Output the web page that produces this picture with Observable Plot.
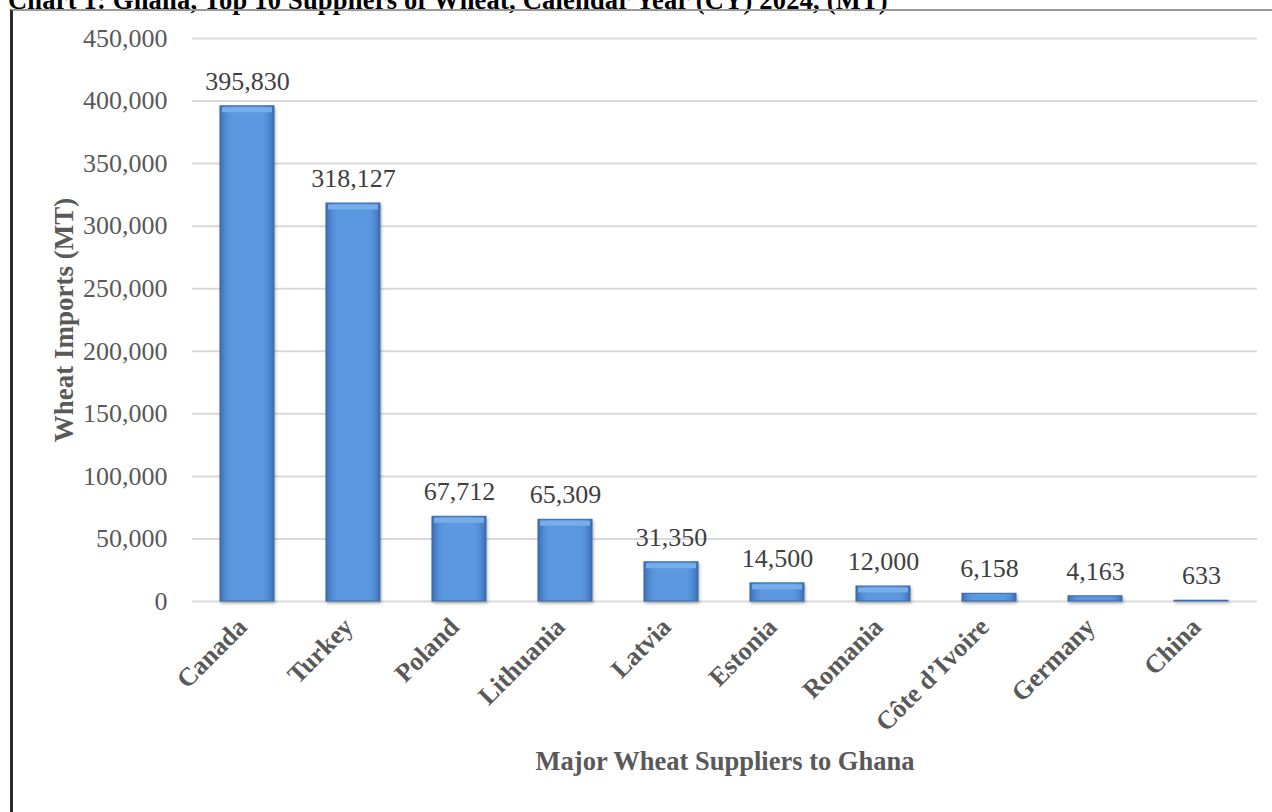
<!DOCTYPE html>
<html>
<head>
<meta charset="utf-8">
<script src="https://cdn.jsdelivr.net/npm/d3@7"></script>
<script src="https://cdn.jsdelivr.net/npm/@observablehq/plot@0.6"></script>
<style>
  html, body { margin: 0; padding: 0; background: #fff; }
  #page { position: relative; width: 1272px; height: 812px; overflow: hidden;
          font-family: "Liberation Serif", "Times New Roman", serif; }
  #title { position: absolute; left: 8px; top: -13px; font-size: 26.5px; line-height: 26.5px;
           letter-spacing: 0.2px; font-weight: bold; color: #000; white-space: nowrap; }
  #frame { position: absolute; left: 10px; top: 9px; width: 1400px; height: 1000px;
           border-top: 2px solid #9a9a9a; border-left: 3px solid #2b2b2b; }
  #chart { position: absolute; left: 0; top: 0; }
</style>
</head>
<body>
<div id="page">
  <div id="title">Chart 1: Ghana, Top 10 Suppliers of Wheat, Calendar Year (CY) 2024, (MT)</div>
  <div id="frame"></div>
  <div id="chart"></div>
</div>
<script>
// Top 10 wheat suppliers to Ghana, CY 2024 (metric tons)
const suppliers = ["Canada", "Turkey", "Poland", "Lithuania", "Latvia", "Estonia",
                   "Romania", "Côte d’Ivoire", "Germany", "China"];
const imports = [395830, 318127, 67712, 65309, 31350, 14500, 12000, 6158, 4163, 633];
const yTicks = [0, 50000, 100000, 150000, 200000, 250000, 300000, 350000, 400000, 450000];
const xTitle = "Major Wheat Suppliers to Ghana";
const yTitle = "Wheat Imports (MT)";

const rows = suppliers.map((s, i) => ({supplier: s, value: imports[i]}));
const fmt = d3.format(",");

const svg = Plot.plot({
  width: 1272,
  height: 812,
  marginTop: 38,
  marginBottom: 211,
  marginLeft: 192,
  marginRight: 15,
  style: {fontFamily: "'Liberation Serif', 'Times New Roman', serif", fontSize: "26px",
          color: "#595959", background: "transparent", overflow: "visible"},
  x: {domain: suppliers, paddingInner: 0.49, paddingOuter: 0.245, axis: null},
  y: {domain: [0, 450000], axis: null},
  marks: [
    Plot.gridY(yTicks, {stroke: "#d9d9d9", strokeOpacity: 1, strokeWidth: 2}),
    Plot.axisY(yTicks, {tickSize: 0, tickPadding: 25, tickFormat: fmt, label: null,
                        fontSize: 26, fill: "#595959"}),
    // bar body with darker bevelled sides
    Plot.barY(rows, {x: "supplier", y: "value", fill: "url(#barFill)",
                     stroke: "#3a6aa8", strokeWidth: 1}),
    // lighter top bevel on the taller bars
    Plot.tickY(rows.filter(d => d.value >= 10000),
               {x: "supplier", y: "value", stroke: "#78ade9", strokeWidth: 5, dy: 3.5,
                insetLeft: 2, insetRight: 2}),
    Plot.text(rows, {x: "supplier", y: "value", text: d => fmt(d.value), dy: -25,
                     fill: "#404040", fontSize: 26}),
    Plot.text(suppliers, {x: d => d, frameAnchor: "bottom", rotate: -45, textAnchor: "end",
                          dx: 1, dy: 27, fontWeight: "bold", fontSize: 26, fill: "#595959"}),
    Plot.text([xTitle], {frameAnchor: "bottom", dy: 168.5, fontWeight: "bold",
                         fontSize: 26.5, fill: "#595959"}),
    Plot.text([yTitle], {frameAnchor: "left", textAnchor: "middle", rotate: -90, dx: -128.5,
                         fontWeight: "bold", fontSize: 27, fill: "#595959"})
  ]
});

// Bevelled blue fill and soft shadow for the bars
const defs = d3.select(svg).insert("defs", ":first-child");
const grad = defs.append("linearGradient").attr("id", "barFill")
  .attr("x1", 0).attr("x2", 1).attr("y1", 0).attr("y2", 0);
[[0, "#3b6db0"], [0.1, "#4f8bd3"], [0.2, "#5b98e0"], [0.8, "#5b98e0"], [0.9, "#4f8bd3"], [1, "#3b6db0"]]
  .forEach(([o, c]) => grad.append("stop").attr("offset", o).attr("stop-color", c));
const shadow = defs.append("filter").attr("id", "barShadow")
  .attr("x", "-20%").attr("y", "-5%").attr("width", "140%").attr("height", "115%");
shadow.append("feDropShadow").attr("dx", 1).attr("dy", 2).attr("stdDeviation", 1.5)
  .attr("flood-color", "#000").attr("flood-opacity", 0.3);
d3.select(svg).selectAll("g[aria-label='bar']").attr("filter", "url(#barShadow)");

document.getElementById("chart").appendChild(svg);
</script>
</body>
</html>
